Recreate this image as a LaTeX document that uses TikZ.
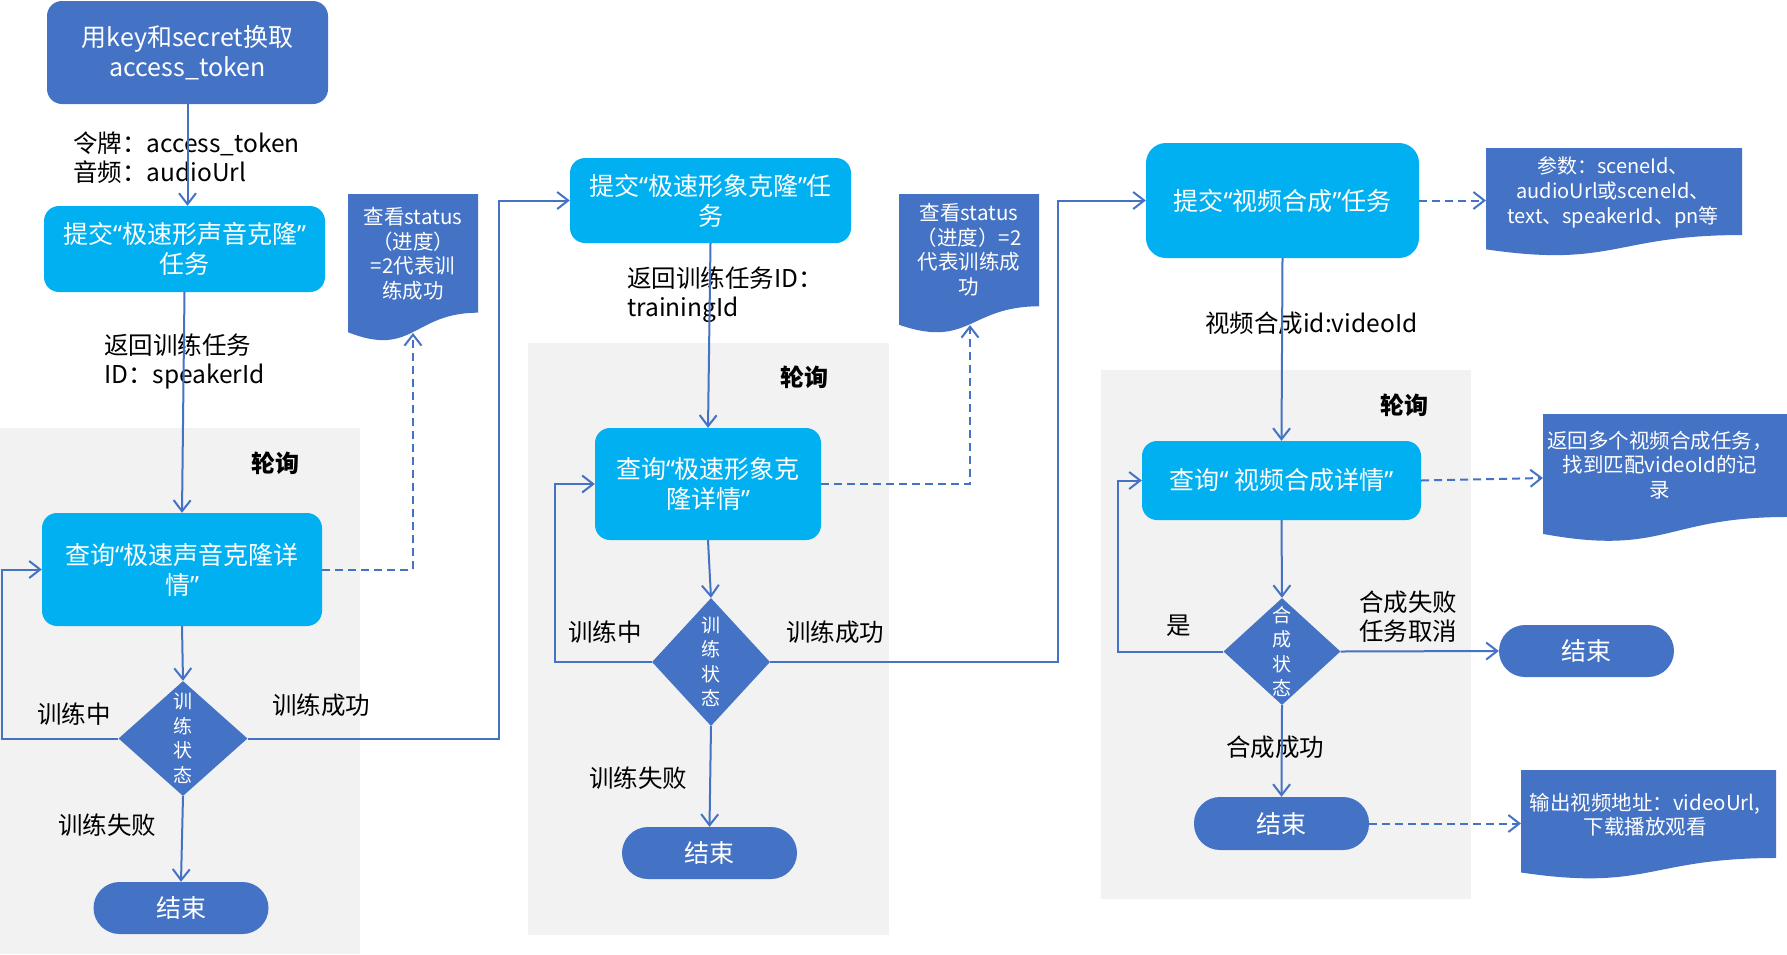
\documentclass[tikz,border=0pt]{standalone}
\usepackage{fontspec}
\setmainfont{Noto Sans CJK SC}
\newfontfamily\qfont{Noto Sans}
\newcommand\qL{{\qfont “}}
\newcommand\qR{{\qfont ”}}
\usetikzlibrary{arrows.meta,shapes.geometric}
\definecolor{dblue}{HTML}{4472C4}
\definecolor{cyanb}{HTML}{00B0F0}
\definecolor{pgray}{HTML}{F2F2F2}
\newcommand\notebg[4]{%
  \fill[dblue] (#1,#3) -- (#2,#3) -- (#2,{#3+0.802*#4})
    .. controls ({(#1+#2)/2},{#3+0.802*#4}) and ({(#1+#2)/2},{#3+1.1075*#4}) .. (#1,{#3+0.934*#4}) -- cycle;}
\begin{document}
\begin{tikzpicture}[x=1pt,y=-1pt,
  boxA/.style={fill=cyanb, rounded corners=15pt, text=white, align=center, inner sep=0pt, font=\fontsize{25}{30}\selectfont},
  boxD/.style={fill=dblue, rounded corners=15pt, text=white, align=center, inner sep=0pt, font=\fontsize{25}{30}\selectfont},
  endbox/.style={fill=dblue, rounded corners=26pt, text=white, inner sep=0pt, minimum width=175pt, minimum height=52pt, font=\fontsize{25}{30}\selectfont},
  dec/.style={shape=diamond, fill=dblue, inner sep=0pt},
  dectext/.style={text=white, align=center, inner sep=0pt, font=\fontsize{19}{24.5}\selectfont},
  lbl/.style={anchor=west, align=left, inner sep=0pt, font=\fontsize{24.5}{29}\selectfont},
  poll/.style={anchor=west, inner sep=0pt, font=\fontsize{24}{29}\selectfont\bfseries},
  notetext/.style={text=white, align=center, inner sep=0pt, font=\fontsize{20.5}{24.5}\selectfont},
  arr/.style={draw=dblue, line width=2pt, -{Straight Barb[length=11pt,width=17pt]}},
  darr/.style={arr, dash pattern=on 8pt off 5pt}
]
\useasboundingbox (0,0) rectangle (1787,954);

% polling backgrounds
\fill[pgray] (0,427.5) rectangle (360,954);
\fill[pgray] (528,343) rectangle (889,935);
\fill[pgray] (1101,370) rectangle (1471,899);

% notes
\notebg{348}{478}{194}{148}
\notebg{899}{1039}{194}{140}
\notebg{1486}{1742}{148}{108.5}
\notebg{1543}{1787}{414}{128.4}
\notebg{1521}{1776}{770}{109.7}
\node[notetext] (n1) at (413,254) {查看status\\（进度）\\=2代表训\\练成功};
\node[notetext] (n2) at (969,249.5) {查看status\\（进度）=2\\代表训练成\\功};
\node[notetext, font=\fontsize{20}{25}\selectfont] (n3) at (1613,192) {参数：sceneId、\\audioUrl或sceneId、\\text、speakerId、pn等};
\node[notetext] (n4) at (1660,465) {返回多个视频合成任务，\\找到匹配videoId的记\\录};
\node[notetext] (n5) at (1645,814.5) {输出视频地址：videoUrl,\\下载播放观看};
\coordinate (N1) at (413,333);
\coordinate (N2) at (970,325);
\coordinate (N3) at (1486,200.5);
\coordinate (N4) at (1543,478);
\coordinate (N5) at (1521,823.5);

% labels
\node[lbl] (l1) at (73,157.5) {令牌：access\_token\\音频：audioUrl};
\node[lbl] (l2) at (104,361) {返回训练任务\\ID：speakerId};
\node[lbl] (l3) at (627,295) {返回训练任务ID：\\trainingId};
\node[lbl] (l4) at (1205,323) {视频合成id:videoId};
\node[lbl] (l5) at (37,714) {训练中};
\node[lbl] (l6) at (272,705) {训练成功};
\node[lbl] (l7) at (58,825) {训练失败};
\node[lbl] (l8) at (568,632) {训练中};
\node[lbl] (l9) at (786,632) {训练成功};
\node[lbl] (l10) at (589,778) {训练失败};
\node[lbl] (l11) at (1166,626) {是};
\node[lbl] (l12) at (1359,617) {合成失败\\任务取消};
\node[lbl] (l13) at (1226,747) {合成成功};
\node[poll] (p1) at (251,463) {轮询};
\node[poll] (p2) at (780,377) {轮询};
\node[poll] (p3) at (1380,405) {轮询};

% boxes
\node[boxD, minimum width=281pt, minimum height=103pt] (top) at (187.5,52.5) {用key和secret换取\\access\_token};
\node[boxA, minimum width=281pt, minimum height=86pt] (sub1) at (184.5,249) {提交\qL 极速形声音克隆\qR\\任务};
\node[boxA, minimum width=280pt, minimum height=113pt] (query1) at (182,569.5) {查询\qL 极速声音克隆详\\情\qR};
\node[endbox] (end1) at (181,908) {结束};
\node[boxA, minimum width=281pt, minimum height=85pt] (box2) at (710.5,200.5) {提交\qL 极速形象克隆\qR 任\\务};
\node[boxA, minimum width=226pt, minimum height=112pt] (query2) at (708,484) {查询\qL 极速形象克\\隆详情\qR};
\node[endbox] (end2) at (709.5,853) {结束};
\node[boxA, rounded corners=20pt, minimum width=273pt, minimum height=115pt] (box3) at (1282.5,200.5) {提交\qL 视频合成\qR 任务};
\node[boxA, minimum width=279pt, minimum height=79pt] (query3) at (1281.5,480.5) {查询\qL\ 视频合成详情\qR};
\node[endbox] (end3) at (1586.5,651) {结束};
\node[endbox, minimum height=53pt] (end4) at (1281.5,823.5) {结束};

% decisions
\node[dec, minimum width=129pt, minimum height=115pt] (dia1) at (183,738.5) {};
\node[dectext] (t1) at (dia1.center) {训\\练\\状\\态};
\node[dec, minimum width=118pt, minimum height=128pt] (dia2) at (711,662) {};
\node[dectext] (t2) at (dia2.center) {训\\练\\状\\态};
\node[dec, minimum width=117pt, minimum height=107pt] (dia3) at (1282,651.5) {};
\node[dectext] (t3) at (dia3.center) {合\\成\\状\\态};

% loop/turn coordinates
\coordinate (L1) at (2,600);
\coordinate (R1) at (499,400);
\coordinate (L2) at (555,560);
\coordinate (R2) at (1058,400);
\coordinate (L3) at (1117.5,560);

% connectors
\draw[arr] (top.south) -- (top.south |- sub1.north);
\draw[arr] (sub1.south) -- (query1.north);
\draw[arr] (query1.south) -- (dia1.north);
\draw[arr] (dia1.south) -- (end1.north);
\draw[arr] (dia1.west) -| (L1) |- (query1.west);
\draw[arr] (dia1.east) -| (R1) |- (box2.west);
\draw[arr] (box2.south) -- (query2.north);
\draw[arr] (query2.south) -- (dia2.north);
\draw[arr] (dia2.south) -- (end2.north);
\draw[arr] (dia2.west) -| (L2) |- (query2.west);
\draw[arr] (dia2.east) -| (R2) |- (box3.west);
\draw[arr] (box3.south) -- (query3.north);
\draw[arr] (query3.south) -- (dia3.north);
\draw[arr] (dia3.south) -- (end4.north);
\draw[arr] (dia3.west) -| (L3) |- (query3.west);
\draw[arr] (dia3.east) -- (end3.west);

\draw[darr] (query1.east) -| (N1);
\draw[darr] (query2.east) -| (N2);
\draw[darr] (box3.east) -- (N3);
\draw[darr] (query3.east) -- (N4);
\draw[darr] (end4.east) -- (N5);
\end{tikzpicture}
\end{document}
